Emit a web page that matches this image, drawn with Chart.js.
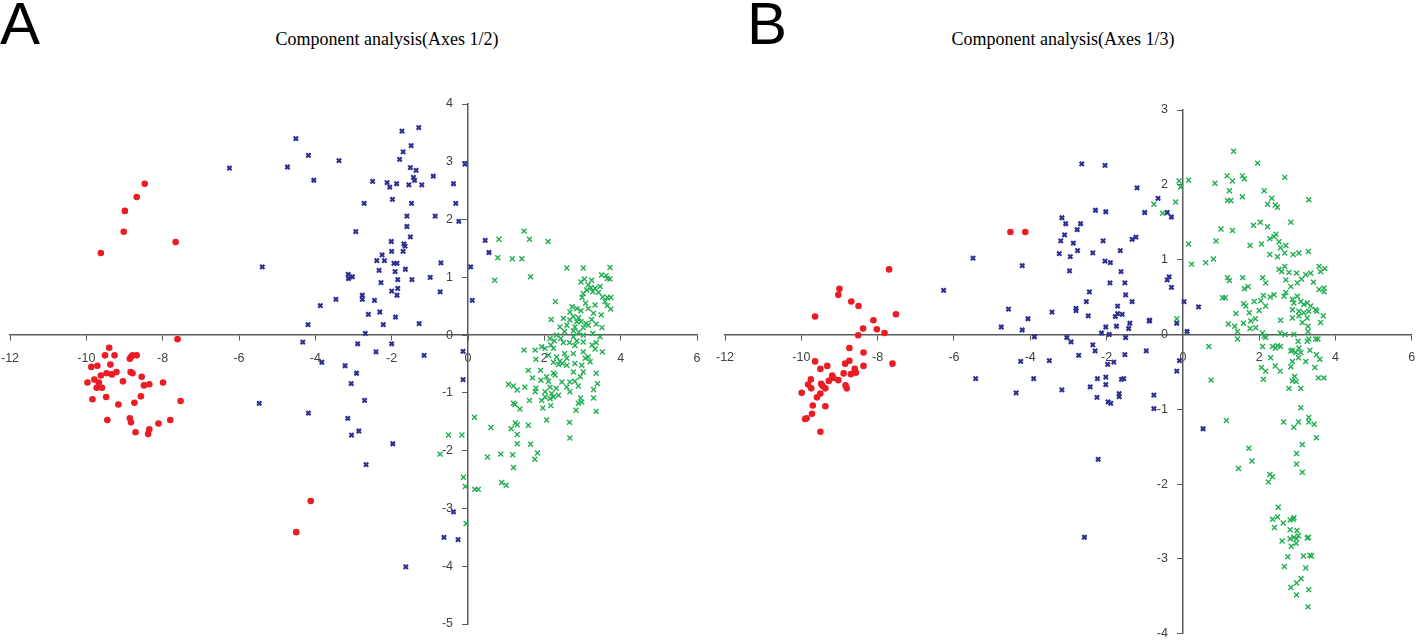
<!DOCTYPE html>
<html lang="en">
<head>
<meta charset="UTF-8">
<title>Component analysis</title>
<script src="https://cdn.jsdelivr.net/npm/chart.js"></script>
<style>
    body { margin: 0; background: #fff; width: 1418px; height: 640px; position: relative; overflow: hidden; }
    .panel { position: absolute; top: 0; height: 640px; }
    .letter { position: absolute; top: -6px; font: 60px/60px "Liberation Sans", Arial, sans-serif; color: #000; }
    .title { position: absolute; top: 29px; width: 400px; text-align: center; font: 18px "Liberation Serif", "Times New Roman", serif; color: #000; }
</style>
</head>
<body>

<div class="letter" style="left:0px">A</div>
<div class="letter" style="left:747px">B</div>
<div class="title" style="left:187px">Component analysis(Axes 1/2)</div>
<div class="title" style="left:863px">Component analysis(Axes 1/3)</div>

<div class="panel" style="left:0; width:709px"><canvas id="chartA"></canvas></div>
<div class="panel" style="left:709px; width:709px"><canvas id="chartB"></canvas></div>

<script>
    // axis ranges / ticks
    const xTicks = [-12, -10, -8, -6, -4, -2, 0, 2, 4, 6]
    const yTicksA = [-5, -4, -3, -2, -1, 0, 1, 2, 3, 4]
    const yTicksB = [-4, -3, -2, -1, 0, 1, 2, 3]

    // Axes 1/2 : [axis1, axis2]
    const redA = [[-9.62,1.42],[-8.99,2.15],[-9.02,1.79],[-8.68,2.39],[-8.47,2.62],[-7.66,1.61],[-7.61,-0.07],
        [-9.40,-0.22],[-9.51,-0.35],[-9.26,-0.35],[-8.86,-0.41],[-8.79,-0.35],[-8.68,-0.35],[-8.83,-0.38],
        [-9.87,-0.55],[-9.71,-0.53],[-9.37,-0.51],[-9.62,-0.70],[-9.47,-0.66],[-9.33,-0.68],[-9.21,-0.64],
        [-8.84,-0.64],[-8.79,-0.66],[-8.55,-0.72],[-9.97,-0.82],[-9.79,-0.77],[-9.67,-0.82],[-9.73,-0.91],
        [-9.59,-0.91],[-9.04,-0.80],[-8.49,-0.87],[-8.35,-0.85],[-7.99,-0.82],[-9.84,-1.11],[-9.48,-1.07],
        [-9.16,-1.20],[-8.74,-1.17],[-8.57,-1.06],[-7.53,-1.14],[-9.45,-1.47],[-8.86,-1.44],[-8.83,-1.51],
        [-8.11,-1.53],[-7.80,-1.47],[-8.71,-1.68],[-8.35,-1.63],[-8.38,-1.71],[-4.12,-2.87],[-4.50,-3.41]]

    const blueA = [[-6.25,2.89],[-4.51,3.40],[-4.73,2.91],[-4.18,3.11],[-4.04,2.68],[-3.38,3.02],[-5.39,1.18],[-2.94,1.79],
        [-2.50,2.66],[-2.72,2.28],[-2.12,2.64],[-2.05,2.56],[-1.87,2.62],[-1.98,2.35],[-1.79,3.04],[-1.73,3.53],
        [-1.70,3.17],[-1.49,3.28],[-1.29,3.59],[-1.51,2.90],[-1.36,2.85],[-1.43,2.73],[-1.40,2.68],[-1.55,2.60],
        [-1.21,2.60],[-0.91,2.75],[-0.38,2.62],[-0.32,2.28],[-0.24,1.97],[-0.86,2.06],[-1.60,2.06],[-1.60,1.88],
        [-1.51,1.70],[-1.48,2.28],[-0.08,2.96],[-2.01,1.62],[-2.00,1.45],[-1.68,1.58],[-1.65,1.54],[-1.70,1.45],
        [-2.25,1.39],[-2.39,1.29],[-2.19,1.29],[-2.33,1.12],[-1.94,1.24],[-1.86,1.24],[-1.91,1.10],[-1.64,1.14],
        [-0.71,1.25],[-3.14,1.05],[-3.13,0.98],[-3.03,1.01],[-2.28,0.91],[-1.84,0.96],[-1.47,0.96],[-0.99,1.00],
        [-2.00,0.76],[-1.84,0.81],[-1.86,0.69],[-0.73,0.75],[-2.77,0.69],[-2.77,0.62],[-3.46,0.62],[-2.45,0.60],
        [-3.87,0.51],[-2.61,0.36],[-2.31,0.40],[-1.90,0.31],[-4.19,0.18],[-2.22,0.18],[-1.28,0.20],[-2.69,0.03],
        [0.07,1.18],[0.45,1.64],[0.55,1.43],[0.11,0.60],
        [-4.33,-0.12],[-2.89,-0.15],[-2.00,-0.15],[-2.41,-0.29],[-1.15,-0.35],[-0.13,-0.28],[-3.83,-0.47],[-3.22,-0.53],
        [-2.92,-0.66],[-3.06,-0.84],[-0.13,-0.77],[-5.47,-1.18],[-2.71,-1.13],[-4.18,-1.35],[-3.15,-1.44],[-2.86,-1.66],
        [-3.05,-1.73],[-1.97,-1.88],[-2.67,-2.24],[-0.38,-3.06],[-0.63,-3.50],[-0.26,-3.54],[-1.63,-4.01]]

    const greenA = [[1.47,1.80],[0.81,1.66],[1.61,1.66],[2.10,1.62],[0.78,1.34],[1.16,1.32],[1.41,1.32],[0.70,0.95],
        [2.59,1.16],[3.02,1.16],[3.72,1.17],[1.64,1.01],[3.50,1.04],[3.62,1.03],[3.65,0.98],[3.72,0.97],
        [3.05,0.97],[3.24,0.95],[2.96,0.92],[3.15,0.87],[3.22,0.82],[3.33,0.81],[3.46,0.84],[3.11,0.78],
        [3.27,0.75],[3.42,0.74],[3.02,0.72],[3.53,0.66],[3.65,0.65],[3.74,0.65],[2.99,0.65],[2.29,0.58],
        [3.59,0.58],[3.08,0.55],[3.33,0.52],[3.65,0.51],[2.73,0.49],[2.85,0.46],[3.15,0.46],[3.74,0.45],
        [2.96,0.42],[2.67,0.40],[3.29,0.38],[3.49,0.35],[2.76,0.32],[2.90,0.30],[2.50,0.29],[2.18,0.27],
        [3.24,0.27],[2.67,0.26],[2.85,0.23],[2.96,0.23],[3.09,0.20],[3.15,0.17],[3.36,0.19],[2.59,0.17],
        [2.41,0.14],[2.80,0.14],[3.02,0.13],[3.51,0.13],[2.53,0.06],[2.76,0.07],[2.90,0.05],[3.27,0.03],
        [2.32,0.00],[2.76,-0.03],[3.02,0.00],[2.15,-0.06],[2.43,-0.06],[3.46,-0.03],[2.26,-0.10],[2.50,-0.13],
        [2.66,-0.13],[2.85,-0.10],[3.02,-0.12],[3.36,-0.13],[3.25,-0.17],[1.93,-0.20],[2.17,-0.17],[2.24,-0.23],
        [2.80,-0.18],[1.47,-0.26],[1.76,-0.26],[2.02,-0.23],[3.52,-0.29],[2.53,-0.32],[2.76,-0.32],[3.02,-0.29],
        [3.33,-0.24],[1.78,-0.42],[2.11,-0.35],[2.32,-0.38],[2.59,-0.40],[3.07,-0.40],[3.15,-0.38],[2.41,-0.45],
        [2.47,-0.49],[2.24,-0.47],[2.37,-0.51],[2.59,-0.52],[2.80,-0.49],[2.98,-0.52],[3.20,-0.46],[1.58,-0.61],
        [1.90,-0.61],[2.24,-0.66],[2.28,-0.69],[2.76,-0.64],[3.02,-0.64],[3.36,-0.66],[2.06,-0.72],[2.94,-0.72],
        [1.69,-0.74],[1.91,-0.78],[2.11,-0.80],[2.46,-0.81],[2.67,-0.81],[2.80,-0.80],[3.39,-0.84],[1.49,-0.90],
        [1.78,-0.92],[2.15,-0.90],[2.31,-0.92],[2.59,-0.90],[2.89,-0.88],[3.29,-0.94],[1.76,-0.98],[2.02,-0.98],
        [2.19,-1.01],[2.24,-1.07],[2.37,-1.04],[2.67,-0.98],[2.95,-1.09],[1.61,-1.13],[1.93,-1.13],[2.02,-1.07],
        [2.15,-1.10],[2.98,-1.16],[3.29,-1.09],[2.17,-1.22],[2.89,-1.18],[1.96,-1.26],[2.83,-1.30],[3.36,-1.32],
        [1.36,-1.28],[2.06,-1.47],[2.66,-1.51],[1.58,-1.56],[2.67,-1.78],[1.64,-1.89],[1.82,-2.04],[1.75,-2.15],
        [1.06,-0.85],[1.19,-0.88],[1.29,-0.95],[1.19,-1.18],[1.23,-1.20],[0.17,-1.42],[0.60,-1.60],[1.13,-1.62],
        [1.24,-1.52],[1.29,-1.55],[1.29,-1.72],[1.29,-1.88],[1.17,-2.07],[1.19,-2.29],[0.51,-2.11],[0.86,-2.06],
        [0.88,-2.55],[1.00,-2.60],[0.18,-2.67],[0.27,-2.67],[-0.51,-1.73],[-0.16,-1.73],[-0.73,-2.06],[-0.12,-2.46],
        [-0.07,-2.62],[-0.05,-3.26]]

    // Axes 1/3 : [axis1, axis3]
    const redB = [[-7.70,0.87],[-9.00,0.61],[-9.03,0.53],[-9.64,0.24],[-8.69,0.44],[-8.50,0.38],[-7.52,0.27],[-8.11,0.19],
        [-8.38,0.08],[-8.02,0.07],[-7.82,0.02],[-8.51,-0.01],[-8.74,-0.18],[-8.37,-0.24],[-9.64,-0.36],[-8.74,-0.35],
        [-8.85,-0.39],[-8.37,-0.42],[-7.61,-0.39],[-9.50,-0.46],[-9.32,-0.42],[-8.60,-0.46],[-9.19,-0.55],[-9.16,-0.58],
        [-8.89,-0.52],[-8.70,-0.53],[-8.57,-0.51],[-9.75,-0.60],[-9.28,-0.62],[-9.03,-0.61],[-9.82,-0.67],[-9.48,-0.66],
        [-9.74,-0.72],[-9.44,-0.69],[-9.37,-0.72],[-8.84,-0.68],[-8.81,-0.72],[-9.50,-0.79],[-9.99,-0.78],[-9.59,-0.84],
        [-9.70,-0.95],[-9.37,-0.96],[-9.72,-1.06],[-9.86,-1.12],[-9.90,-1.13],[-9.50,-1.30],[-4.52,1.37],[-4.13,1.37]]

    const blueB = [[-2.65,2.28],[-2.04,2.26],[-1.20,1.96],[-0.65,1.82],[-1.00,1.63],[-0.41,1.63],[-0.30,1.57],[-2.29,1.66],
        [-2.02,1.64],[-3.17,1.56],[-3.07,1.48],[-2.68,1.48],[-2.77,1.40],[-3.10,1.33],[-3.20,1.25],[-2.87,1.22],
        [-2.09,1.25],[-1.33,1.27],[-1.23,1.30],[-2.76,1.12],[-3.24,1.08],[-2.95,1.04],[-2.36,1.09],[-1.64,1.12],
        [-2.04,0.98],[-1.90,0.96],[-5.50,1.02],[-4.21,0.92],[-2.97,0.85],[-1.62,0.84],[-0.41,0.73],[-0.36,0.77],
        [-0.30,0.63],[-1.91,0.69],[-1.52,0.69],[-6.27,0.59],[-2.45,0.57],[-1.50,0.53],[-2.53,0.44],[-1.33,0.44],
        [-1.71,0.38],[0.03,0.44],[0.41,0.37],[0.11,0.04],[-0.87,0.19],[-0.16,0.15],
        [-4.57,0.34],[-3.43,0.30],[-2.80,0.35],[-2.80,0.32],[-2.48,0.25],[-1.71,0.28],[-1.77,0.24],[-1.59,0.27],
        [-4.06,0.21],[-0.88,0.18],[-1.39,0.15],[-1.42,0.08],[-4.76,0.10],[-4.21,0.06],[-2.02,0.10],[-1.74,0.11],
        [-2.13,0.02],[-1.93,0.00],[-3.89,-0.03],[-3.04,-0.04],[-2.93,-0.10],[-1.50,-0.04],[-2.36,-0.14],[-2.30,-0.22],
        [-0.96,-0.22],[-2.73,-0.28],[-1.52,-0.27],[-1.81,-0.37],[-1.97,-0.40],[-3.50,-0.35],[-4.25,-0.36],[-0.09,-0.35],
        [-0.16,-0.49],[-5.43,-0.59],[-3.91,-0.59],[-4.37,-0.78],[-3.17,-0.74],[-2.43,-0.70],[-2.25,-0.84],[-2.24,-0.59],
        [-2.02,-0.57],[-2.02,-0.67],[-1.61,-0.60],[-1.55,-0.59],[-1.96,-0.90],[-1.89,-0.92],[-1.67,-0.79],[-1.67,-0.83],
        [-0.76,-0.81],[-0.76,-0.99],[0.53,-1.26],[-2.22,-1.67],[-2.58,-2.71]]

    const greenB = [[1.33,2.45],[1.96,2.29],[-0.10,2.05],[0.15,2.06],[-0.06,1.97],[0.84,2.02],[1.16,2.12],[1.30,2.05],
        [1.56,2.12],[1.61,2.08],[2.67,2.10],[1.22,1.92],[2.13,1.92],[1.17,1.79],[1.26,1.79],[1.56,1.84],
        [2.22,1.74],[2.33,1.82],[2.42,1.73],[2.48,1.70],[3.30,1.80],[-0.19,1.77],[-0.76,1.74],[-0.53,1.62],
        [1.00,1.41],[1.30,1.39],[1.85,1.46],[2.03,1.50],[2.22,1.44],[2.83,1.50],[0.87,1.25],[0.15,1.21],
        [1.76,1.19],[2.06,1.21],[2.28,1.28],[2.39,1.31],[2.44,1.34],[2.52,1.24],[2.70,1.19],[2.56,1.16],
        [2.67,1.09],[2.28,1.07],[2.48,1.04],[2.89,1.07],[3.04,1.09],[3.29,1.11],[0.23,0.94],[0.60,0.96],
        [0.80,1.01],[2.52,0.87],[2.59,0.84],[2.67,0.91],[2.78,0.83],[2.98,0.82],[3.11,0.74],[3.22,0.80],
        [3.35,0.82],[3.57,0.91],[3.61,0.84],[3.72,0.88],[1.17,0.76],[1.22,0.72],[1.57,0.76],[2.09,0.76],
        [2.17,0.69],[2.70,0.73],[3.00,0.69],[2.83,0.64],[1.61,0.61],[1.71,0.64],[2.70,0.56],[3.42,0.70],
        [3.57,0.60],[3.70,0.62],[3.70,0.57],[1.04,0.49],[1.11,0.49],[1.59,0.41],[1.65,0.38],[1.87,0.44],
        [2.04,0.45],[2.11,0.52],[2.29,0.50],[2.39,0.53],[2.65,0.51],[2.87,0.47],[2.91,0.42],[3.00,0.51],
        [3.09,0.44],[3.17,0.40],[3.26,0.42],[3.35,0.38],[3.48,0.33],[3.51,0.31],[3.68,0.25],[2.87,0.33],
        [3.04,0.31],[3.17,0.29],[3.30,0.31],[3.04,0.25],[3.26,0.22],[3.61,0.16],[1.39,0.28],[1.74,0.29],
        [2.00,0.32],[2.17,0.38],[2.56,0.19],[2.87,0.22],[3.13,0.16],[3.28,0.11],[1.19,0.14],[1.36,0.11],
        [1.59,0.15],[1.78,0.18],[1.90,0.21],[1.76,0.08],[1.91,0.09],[1.43,0.04],[1.43,-0.06],[2.09,0.02],
        [2.17,-0.04],[2.55,0.02],[2.68,0.00],[2.91,0.00],[3.28,0.04],[3.30,-0.06],[3.48,-0.06],[3.54,-0.06],
        [-0.16,0.21],[0.68,-0.16],
        [2.13,-0.02],[2.35,-0.16],[2.43,-0.18],[2.48,-0.15],[2.56,-0.16],[2.83,-0.22],[2.87,-0.21],[2.96,-0.24],
        [3.04,-0.18],[3.09,-0.24],[3.02,-0.09],[3.26,-0.09],[2.09,-0.16],[2.30,-0.31],[2.87,-0.36],[3.22,-0.36],
        [3.33,-0.21],[3.50,-0.27],[3.59,-0.33],[3.03,-0.31],[2.06,-0.44],[2.17,-0.49],[2.42,-0.42],[2.55,-0.49],
        [2.83,-0.43],[3.46,-0.44],[2.11,-0.60],[2.93,-0.56],[2.87,-0.62],[2.97,-0.63],[3.55,-0.58],[3.70,-0.58],
        [2.78,-0.72],[3.09,-0.72],[0.74,-0.61],
        [3.09,-0.98],[1.14,-1.15],[2.64,-1.17],[3.03,-1.17],[3.30,-1.11],[3.30,-1.17],[3.44,-1.20],[2.91,-1.24],
        [3.50,-1.38],[3.13,-1.47],[1.73,-1.52],[2.98,-1.59],[1.81,-1.69],[2.98,-1.73],[1.46,-1.79],[3.13,-1.84],
        [2.28,-1.87],[2.35,-1.90],[2.24,-1.97],[2.50,-2.31],[2.35,-2.47],[2.48,-2.44],[2.40,-2.58],[2.63,-2.52],
        [2.81,-2.48],[2.89,-2.47],[2.91,-2.45],[2.81,-2.61],[2.99,-2.62],[3.03,-2.69],[2.91,-2.71],[2.98,-2.73],
        [2.81,-2.73],[2.60,-2.76],[3.26,-2.72],[3.29,-2.71],[2.97,-2.79],[2.84,-2.83],[3.16,-2.96],[3.33,-2.95],
        [3.37,-2.96],[2.75,-2.97],[2.66,-3.10],[3.22,-3.12],[3.10,-3.26],[2.98,-3.32],[2.83,-3.38],[3.30,-3.41],
        [2.98,-3.48],[3.28,-3.64]]

    const RED = '#ec1c24'
    const BLUE = '#2e3192'
    const GREEN = '#1fae50'
    const AXIS = '#5a5a5a'

    function toXY(list) {
        return list.map(p => ({ x: p[0], y: p[1] }))
    }

    // axis crossing the other one at 0; y labels are right-aligned on the axis line,
    // so a trailing space pushes them off it
    function makeAxis(ticks, crossAt, isY) {
        return {
            type: 'linear',
            position: crossAt,
            min: ticks[0],
            max: ticks[ticks.length - 1],
            afterBuildTicks: (scale) => { scale.ticks = ticks.map(v => ({ value: v })) },
            // labels are allowed to hang outside the plot, layout padding decides the area
            afterFit: (scale) => {
                scale.paddingLeft = 0; scale.paddingRight = 0
                scale.paddingTop = 0; scale.paddingBottom = 0
            },
            grid: { drawOnChartArea: false, drawTicks: true, tickLength: 5, color: AXIS, lineWidth: 1 },
            border: { color: AXIS, width: 1.5 },
            ticks: {
                color: '#404040',
                font: { family: '"Liberation Sans", Arial, sans-serif', size: 12.5 },
                padding: isY ? 3 : 11,
                callback: (v) => isY ? v + '\u2003\u2009' : String(v)
            }
        }
    }

    function makeChart(id, red, blue, green, yTicks, pad) {
        return new Chart(document.getElementById(id), {
            type: 'scatter',
            data: {
                datasets: [
                    { data: toXY(green), pointStyle: 'crossRot', radius: 3.5, borderColor: GREEN, borderWidth: 1.4, backgroundColor: GREEN },
                    { data: toXY(blue), pointStyle: 'crossRot', radius: 3, borderColor: BLUE, borderWidth: 2.2, backgroundColor: BLUE },
                    { data: toXY(red), pointStyle: 'circle', radius: 3.3, borderWidth: 0, backgroundColor: RED }
                ]
            },
            options: {
                responsive: false,
                animation: false,
                layout: { padding: pad },
                plugins: { legend: { display: false }, tooltip: { enabled: false } },
                scales: {
                    x: makeAxis(xTicks, { y: 0 }, false),
                    y: makeAxis(yTicks, { x: 0 }, true)
                }
            }
        })
    }

    const cA = document.getElementById('chartA')
    cA.width = 709; cA.height = 640
    const cB = document.getElementById('chartB')
    cB.width = 709; cB.height = 640

    makeChart('chartA', redA, blueA, greenA, yTicksA, { left: 10, right: 12, top: 104, bottom: 16 })
    makeChart('chartB', redB, blueB, greenB, yTicksB, { left: 16, right: 3, top: 110, bottom: 5 })
</script>
</body>
</html>
